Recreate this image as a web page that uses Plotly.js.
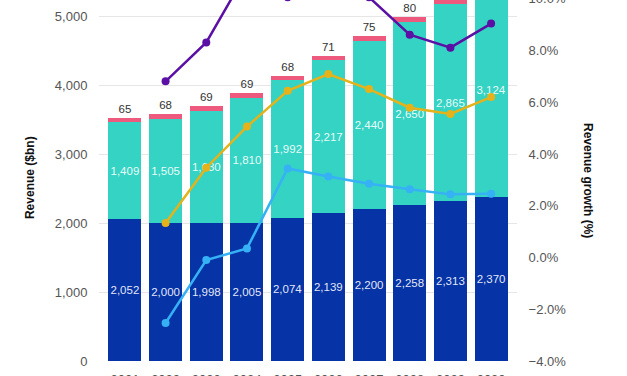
<!DOCTYPE html>
<html>
<head>
<meta charset="utf-8">
<script src="https://cdn.plot.ly/plotly-3.0.1.min.js"></script>
<style>
html, body { margin: 0; padding: 0; overflow: hidden; background: #ffffff; width: 627px; height: 376px; }
#chart { position: absolute; left: 0; top: -60px; width: 627px; height: 460px; }
</style>
</head>
<body>
<div id="chart"></div>
<script>
const years = ['2021','2022','2023','2024','2025','2026','2027','2028','2029','2030'];
const seriesBase = [2052, 2000, 1998, 2005, 2074, 2139, 2200, 2258, 2313, 2370];
const seriesMid = [1409, 1505, 1630, 1810, 1992, 2217, 2440, 2650, 2865, 3124];
const seriesTop = [65, 68, 69, 69, 68, 71, 75, 80, 86, 95];
const growthBase = [null, -2.53, -0.10, 0.35, 3.44, 3.13, 2.85, 2.64, 2.44, 2.46];
const growthMid = [null, 6.81, 8.31, 11.04, 10.06, 11.30, 10.06, 8.61, 8.11, 9.04];
const growthTotal = [null, 1.33, 3.47, 5.06, 6.44, 7.09, 6.51, 5.79, 5.55, 6.20];

const fmt = v => v.toLocaleString('en-US');
const labelFont = {family: 'Liberation Sans, Arial, sans-serif', size: 11.5};

const traces = [
  {type: 'bar', x: years, y: seriesBase, name: 'Base', marker: {color: '#0633a6'},
   text: seriesBase.map(fmt), textposition: 'inside', insidetextanchor: 'middle', textangle: 0,
   textfont: Object.assign({color: 'rgba(255,255,255,0.9)'}, labelFont), constraintext: 'none', hoverinfo: 'skip'},
  {type: 'bar', x: years, y: seriesMid, name: 'Mid', marker: {color: '#35d3c3'},
   text: seriesMid.map(fmt), textposition: 'inside', insidetextanchor: 'middle', textangle: 0,
   textfont: Object.assign({color: 'rgba(255,255,255,0.9)'}, labelFont), constraintext: 'none', hoverinfo: 'skip'},
  {type: 'bar', x: years, y: seriesTop, name: 'Top', marker: {color: '#ee5a7e'},
   text: seriesTop.map(fmt), textposition: 'outside', cliponaxis: false, textangle: 0,
   textfont: Object.assign({color: '#333333'}, labelFont), constraintext: 'none', hoverinfo: 'skip'},
  {type: 'scatter', mode: 'lines+markers', x: years, y: growthBase, yaxis: 'y2', name: 'g base',
   line: {color: '#36b1f5', width: 2.5}, marker: {color: '#36b1f5', size: 8}, hoverinfo: 'skip'},
  {type: 'scatter', mode: 'lines+markers', x: years, y: growthTotal, yaxis: 'y2', name: 'g total',
   line: {color: '#e5b21a', width: 2.5}, marker: {color: '#e5b21a', size: 8}, hoverinfo: 'skip'},
  {type: 'scatter', mode: 'lines+markers', x: years, y: growthMid, yaxis: 'y2', name: 'g mid',
   line: {color: '#5a0fa5', width: 2.5}, marker: {color: '#5a0fa5', size: 8}, hoverinfo: 'skip'}
];

const tickFont = {family: 'Liberation Sans, Arial, sans-serif', size: 13, color: '#555555'};
const titleFont = {family: 'Liberation Sans, Arial, sans-serif', size: 12, color: '#111111'};

const layout = {
  width: 627, height: 460,
  margin: {l: 99, r: 110, t: 7, b: 39},
  barmode: 'stack', bargap: 0.19,
  showlegend: false,
  paper_bgcolor: '#ffffff', plot_bgcolor: '#ffffff',
  xaxis: {type: 'category', tickfont: tickFont, showgrid: false, zeroline: false,
          ticks: 'outside', ticklen: 6, tickcolor: 'rgba(0,0,0,0)', showline: false},
  yaxis: {range: [0, 6000], dtick: 1000, tickformat: ',d', tickfont: tickFont,
          gridcolor: '#e6e6e6', gridwidth: 1, zeroline: false,
          ticks: 'outside', ticklen: 8, tickcolor: 'rgba(0,0,0,0)'},
  yaxis2: {overlaying: 'y', side: 'right', range: [-4, 12], dtick: 2, tickformat: '.1f', ticksuffix: '%',
           tickfont: tickFont, showgrid: false, zeroline: false,
           ticks: 'outside', ticklen: 8, tickcolor: 'rgba(0,0,0,0)'},
  annotations: [
    {text: '<b>Revenue ($bn)</b>', xref: 'paper', yref: 'paper', x: -0.165, y: 0.442,
     textangle: -90, showarrow: false, font: titleFont, xanchor: 'center', yanchor: 'middle'},
    {text: '<b>Revenue growth (%)</b>', xref: 'paper', yref: 'paper', x: 1.170, y: 0.437,
     textangle: 90, showarrow: false, font: titleFont, xanchor: 'center', yanchor: 'middle'}
  ]
};

Plotly.newPlot('chart', traces, layout, {staticPlot: true, displayModeBar: false});
</script>
</body>
</html>
